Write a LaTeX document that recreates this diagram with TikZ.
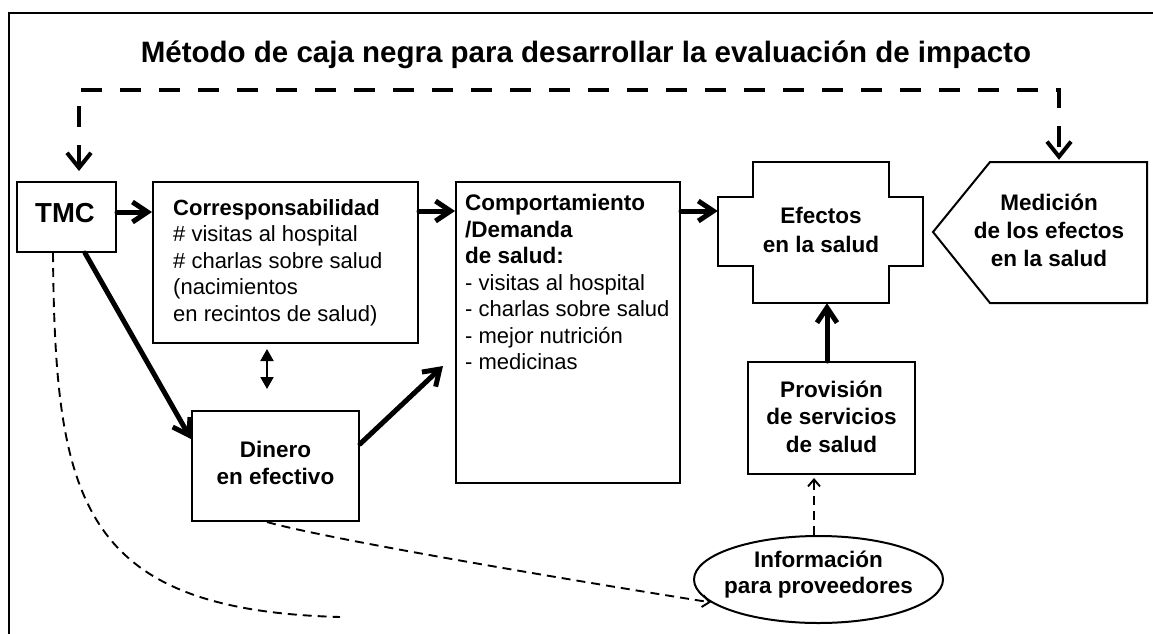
\documentclass[tikz,border=0pt]{standalone}
\usepackage{fontspec}
\setmainfont{Liberation Sans}
\usetikzlibrary{arrows.meta,shapes.geometric,calc}
\begin{document}
\begin{tikzpicture}[x=1pt,y=-1pt,
  box/.style={draw,line width=2pt,inner sep=0pt},
  btxt/.style={font=\bfseries\fontsize{22.5}{27.5}\selectfont, align=center, inner sep=0pt, anchor=north},
  ltxt/.style={font=\fontsize{22}{26.5}\selectfont, align=left, inner sep=0pt, anchor=north west},
  thickarr/.style={line width=5pt, line cap=round, -{Straight Barb[length=15pt,width=20pt]}},
  fbarr/.style={line width=4pt, dash pattern=on 21pt off 18pt, {Straight Barb[length=15pt,width=24pt]}-{Straight Barb[length=15pt,width=24pt]}},
  thindash/.style={line width=1.9pt, dash pattern=on 9pt off 6pt},
  thintip/.style={-{Straight Barb[length=7pt,width=12pt]}},
  dblarr/.style={line width=2pt, {Triangle[length=12pt,width=13pt]}-{Triangle[length=12pt,width=13pt]}}
]
\useasboundingbox (0,0) rectangle (1153,634);
\clip (0,0) rectangle (1153,634);
\draw[line width=1.8pt] (1170,13) -- (9,13) -- (9,650);

\node[font=\bfseries\fontsize{29.5}{33}\selectfont, anchor=base, inner sep=0pt] (title) at (586,63)
  {Método de caja negra para desarrollar la evaluación de impacto};

% boxes
\node[box, minimum width=99pt, minimum height=70pt] (tmc) at (66.5,217) {};
\node[font=\bfseries\fontsize{27.5}{30}\selectfont, inner sep=0pt] (tmct) at (65,213) {TMC};

\node[box, minimum width=265pt, minimum height=161pt] (corr) at (285.5,262.5) {};
\node[ltxt] (corrt) at (173,199) {\textbf{Corresponsabilidad}\\\# visitas al hospital\\\# charlas sobre salud\\(nacimientos\\en recintos de salud)};

\node[box, minimum width=224pt, minimum height=301pt] (comp) at (568,332.5) {};
\node[ltxt] (compt) at (465,194) {\textbf{\fontsize{22.5}{26.5}\selectfont Comportamiento}\\\textbf{\fontsize{22.5}{26.5}\selectfont /Demanda}\\\textbf{\fontsize{22.5}{26.5}\selectfont de salud:}\\- visitas al hospital\\- charlas sobre salud\\- mejor nutrición\\- medicinas};

\node[box, minimum width=167pt, minimum height=110pt] (din) at (275.5,466) {};
\node[btxt] (dint) at (275.5,440.5) {Dinero\\en efectivo};

\node[box, minimum width=167pt, minimum height=112pt] (prov) at (831.5,418) {};
\node[btxt] (provt) at (831.5,380.5) {Provisión\\de servicios\\de salud};

\node[draw, line width=2pt, ellipse, minimum width=249pt, minimum height=87pt, inner sep=0pt] (info) at (818.5,579.5) {};
\node[btxt, font=\bfseries\fontsize{22.5}{26}\selectfont] (infot) at (818.5,550.5) {Información\\para proveedores};

% Efectos cross
\node[minimum width=205pt, minimum height=141pt, inner sep=0pt] (ef) at (820.5,232.5) {};
\draw[line width=2pt] (718,197) -- (753,197) -- (753,162) -- (889,162) -- (889,197) -- (923,197)
  -- (923,266) -- (889,266) -- (889,303) -- (753,303) -- (753,266) -- (718,266) -- cycle;
\node[btxt, font=\bfseries\fontsize{22.5}{29}\selectfont] (eft) at (821,206.5) {Efectos\\en la salud};

% Medicion pentagon
\node[minimum width=214pt, minimum height=141pt, inner sep=0pt] (med) at (1040,232.5) {};
\draw[line width=2pt] (933,232) -- (990,162) -- (1147,162) -- (1147,303) -- (990,303) -- cycle;
\node[btxt, font=\bfseries\fontsize{22.5}{28}\selectfont] (medt) at (1049,193.5) {Medición\\de los efectos\\en la salud};

% connectors
\draw[thickarr] ([yshift=5pt]tmc.east) -- ([yshift=5pt]tmc.east -| corr.west);
\draw[thickarr] ([yshift=-30pt]corr.north east) -- ([yshift=-30pt]corr.north east -| comp.west);
\draw[thickarr] ([yshift=-30pt]comp.north east) -- ([yshift=-30pt]comp.north east -| ef.west);
\draw[thickarr] ([xshift=18.5pt]tmc.south) -- ([yshift=-29pt]din.north west);
\draw[thickarr] ([yshift=-34pt]din.north east) -- ([xshift=-12pt,yshift=-33.5pt]comp.west);

\coordinate (pA) at ([xshift=-4.5pt]prov.north);
\draw[thickarr] (pA) -- (pA |- ef.south);

\coordinate (dA) at ([xshift=-18.5pt,yshift=-5pt]corr.south);
\draw[dblarr] (dA) -- ($(dA |- din.north)+(0,-21)$);

\coordinate (fbL) at (79,90);
\coordinate (fbR) at (1059,90);
\draw[fbarr] ([xshift=12.5pt,yshift=10pt]tmc.north) -- (fbL) -- (fbR) -- ($(fbR |- med.north)+(0,-2)$);

\coordinate (iA) at ([xshift=-4.5pt]info.north);
\draw[thindash, thintip] (iA) -- ($(iA |- prov.south)+(0,3)$);

\draw[thindash, thintip] ([xshift=-8.5pt]din.south) .. controls (330,540) and (600,585) .. (info.192);

\coordinate (tend) at (340,617);
\draw[thindash] ([xshift=-13.5pt]tmc.south) .. controls (55,500) and (80,610) .. (tend);
\end{tikzpicture}
\end{document}
